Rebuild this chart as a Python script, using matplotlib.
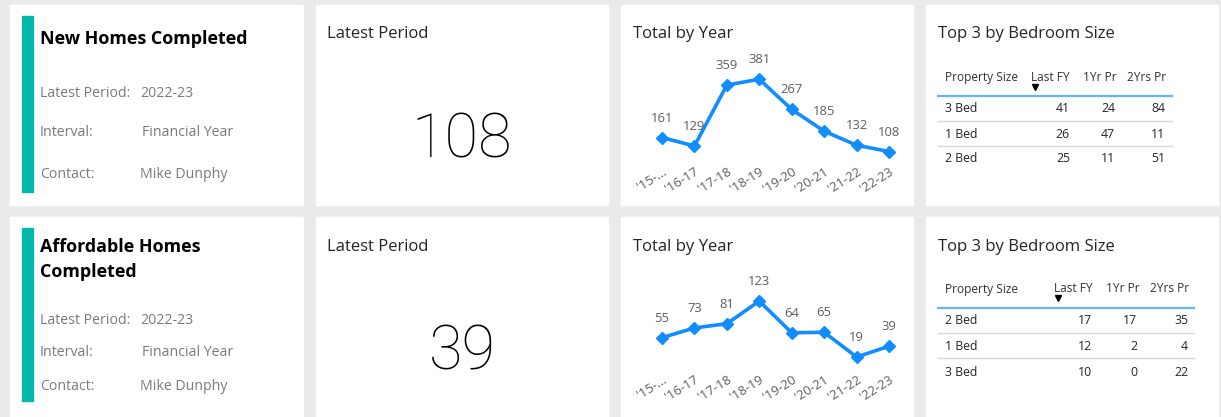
import matplotlib.pyplot as plt
from matplotlib.patches import Rectangle

plt.rcParams['font.family'] = ['Open Sans', 'DejaVu Sans']

W, H = 1221, 417

# ---- data ----
years = ["'15-...", "'16-17", "'17-18", "'18-19", "'19-20", "'20-21", "'21-22", "'22-23"]
new_homes = [161, 129, 359, 381, 267, 185, 132, 108]
affordable_homes = [55, 73, 81, 123, 64, 65, 19, 39]

titles = ["New Homes Completed", "Affordable Homes\nCompleted"]
latest_values = [108, 39]
latest_period = "2022-23"
interval = "Financial Year"
contact = "Mike Dunphy"

table_cols = ["Property Size", "Last FY", "1Yr Pr", "2Yrs Pr"]
new_sizes = ["3 Bed", "1 Bed", "2 Bed"]
new_last_fy = [41, 26, 25]
new_1yr = [24, 47, 11]
new_2yr = [84, 11, 51]
aff_sizes = ["2 Bed", "1 Bed", "3 Bed"]
aff_last_fy = [17, 12, 10]
aff_1yr = [17, 2, 0]
aff_2yr = [35, 4, 22]

BLUE = '#118DFF'
TEAL = '#01B8AA'
DARK = '#252423'
GREY = '#7A7A7A'
LABEL = '#605E5C'

fig = plt.figure(figsize=(W / 100, H / 100), dpi=100)
fig.patch.set_facecolor('#EAEAEA')
bg = fig.add_axes([0, 0, 1, 1])
bg.set_xlim(0, W)
bg.set_ylim(H, 0)
bg.axis('off')


def pax(x0, y0, x1, y1):
    # pixel box -> figure axes
    return fig.add_axes([x0 / W, 1 - y1 / H, (x1 - x0) / W, (y1 - y0) / H])


card_x = [(10, 303), (316, 608), (621, 913), (926, 1218)]
row_y = [(5, 205), (217, 430)]
for (y0, y1) in row_y:
    for (x0, x1) in card_x:
        bg.add_patch(Rectangle((x0, y0), x1 - x0, y1 - y0, color='white', zorder=1))

# ---- info cards ----
info_rows = [
    dict(top=16, bar_end=192, title_y=[39], lines=[93, 133, 174]),
    dict(top=228, bar_end=401, title_y=[247, 272], lines=[320, 352, 386]),
]
for r, info in enumerate(info_rows):
    bg.add_patch(Rectangle((22, info['top']), 11, info['bar_end'] - info['top'],
                           color=TEAL, zorder=2))
    for k, line in enumerate(titles[r].split('\n')):
        bg.text(40, info['title_y'][k], line, fontsize=12.9, fontweight='bold',
                color='black', va='center', zorder=3)
    keys = ["Latest Period:", "Interval:", "Contact:"]
    vals = [latest_period, interval, contact]
    vx = [140, 142, 140]
    for k in range(3):
        y = info['lines'][k]
        bg.text(40, y, keys[k], fontsize=10.2, color=GREY, va='center', zorder=3)
        bg.text(vx[k], y, vals[k], fontsize=10.2, color=GREY, va='center', zorder=3)

# ---- latest period cards ----
for r, (ty, ny) in enumerate([(34, 141), (247, 353)]):
    bg.text(327, ty, "Latest Period", fontsize=12, color=DARK, va='center', zorder=3)
    bg.text(462, ny, str(latest_values[r]), fontsize=44, color='black',
            family=['Roboto', 'DejaVu Sans'], fontweight='light',
            ha='center', va='center', zorder=3)

# ---- line charts ----
series = [new_homes, affordable_homes]
boxes = [(650, 61, 901, 161), (650, 269, 901, 369)]
ylims = [(72.4, 449.8), (-3.3, 182.6)]
for r in range(2):
    ty = [34, 247][r]
    bg.text(633, ty, "Total by Year", fontsize=12, color=DARK, va='center', zorder=3)
    ax = pax(*boxes[r])
    ax.patch.set_alpha(0)
    xs = list(range(len(years)))
    ax.plot(xs, series[r], color=BLUE, lw=2.6, marker='D', ms=6.5, zorder=3,
            solid_joinstyle='miter')
    for x, v in zip(xs, series[r]):
        ax.annotate(str(v), (x, v), xytext=(0, 14), textcoords='offset points',
                    ha='center', va='center', fontsize=9.4, color=LABEL, zorder=4)
    ax.set_xlim(-0.37, 7.37)
    ax.set_ylim(*ylims[r])
    ax.set_xticks(xs)
    ax.set_xticklabels(years, rotation=32, ha='right', va='top',
                       rotation_mode='anchor', fontsize=9.4, color=LABEL)
    ax.tick_params(axis='x', length=0, pad=3)
    ax.set_yticks([])
    for s in ax.spines.values():
        s.set_visible(False)

# ---- tables ----
tables = [
    dict(sizes=new_sizes, cols=[new_last_fy, new_1yr, new_2yr], head_y=77, line_y=96,
         line_x1=1172, rows_y=[108, 134, 159], seps=[121, 146],
         col_left=[1031, 1083, 1127], col_right=[1070, 1115, 1165], arrow=(1035, 87)),
    dict(sizes=aff_sizes, cols=[aff_last_fy, aff_1yr, aff_2yr], head_y=289, line_y=308,
         line_x1=1194, rows_y=[321, 346, 372], seps=[333, 358],
         col_left=[1054, 1106, 1150], col_right=[1092, 1137, 1188], arrow=(1058, 298)),
]
for r, t in enumerate(tables):
    ty = [34, 247][r]
    bg.text(938, ty, "Top 3 by Bedroom Size", fontsize=12, color=DARK, va='center', zorder=3)
    bg.text(945, t['head_y'], table_cols[0], fontsize=8.6, color='#333333', va='center', zorder=3)
    for c in range(3):
        bg.text(t['col_left'][c], t['head_y'], table_cols[c + 1], fontsize=8.6,
                color='#333333', va='center', zorder=3)
    bg.plot([t['arrow'][0]], [t['arrow'][1]], marker='v', ms=4.5, color='black', zorder=3)
    bg.plot([938, t['line_x1']], [t['line_y'], t['line_y']], color='#6AB4F5', lw=1.6, zorder=3)
    for s in t['seps']:
        bg.plot([938, t['line_x1']], [s, s], color='#D8D8D8', lw=1, zorder=3)
    for i, size in enumerate(t['sizes']):
        y = t['rows_y'][i]
        bg.text(945, y, size, fontsize=8.8, color=DARK, va='center', zorder=3)
        for c in range(3):
            bg.text(t['col_right'][c], y, str(t['cols'][c][i]), fontsize=8.8,
                    color=DARK, va='center', ha='right', zorder=3)

fig.savefig('out.png', dpi=100, facecolor=fig.get_facecolor())
